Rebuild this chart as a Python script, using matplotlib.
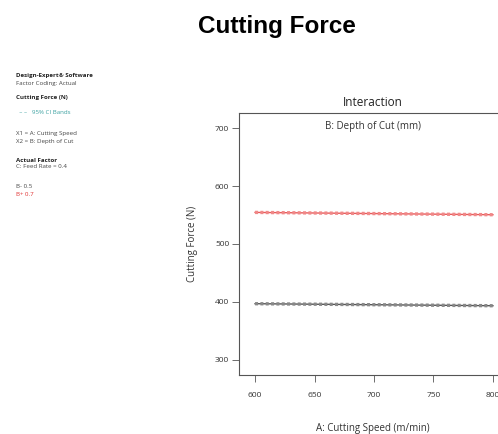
import matplotlib
matplotlib.use("Agg")
import matplotlib.pyplot as plt

speed = [600, 800]
force_b_low = [397.0, 393.5]    # B- 0.5
force_b_high = [554.5, 550.5]   # B+ 0.7
xticks = [600, 650, 700, 750, 800]
yticks = [300, 400, 500, 600, 700]

W, H = 498, 434
fig = plt.figure(figsize=(W / 100, H / 100), dpi=100)
fig.patch.set_facecolor("white")

sans = ["Open Sans", "DejaVu Sans"]

fig.text(277 / W, 1 - 26 / H, "Cutting Force", ha="center", va="center",
         fontsize=17.5, fontweight="bold", family=["Liberation Sans", "DejaVu Sans"])

left_x = 16 / W
items = [
    (76, "Design-Expert® Software", "bold", "#222222"),
    (83, "Factor Coding: Actual", "normal", "#444444"),
    (98, "Cutting Force (N)", "bold", "#222222"),
    (113, "  – –   95% CI Bands", "normal", "#3aa0a0"),
    (134, "X1 = A: Cutting Speed", "normal", "#444444"),
    (141, "X2 = B: Depth of Cut", "normal", "#444444"),
    (160, "Actual Factor", "bold", "#222222"),
    (167, "C: Feed Rate = 0.4", "normal", "#444444"),
    (187, "B- 0.5", "normal", "#444444"),
    (195, "B+ 0.7", "normal", "#e03030"),
]
for y, s, w, c in items:
    fig.text(left_x, 1 - y / H, s, ha="left", va="center", fontsize=4.4,
             fontweight=w, color=c, family=sans)

ax = fig.add_axes([239 / W, 1 - 375 / H, (509 - 239) / W, (375 - 113) / H])
ax.set_xlim(586.5, 813.5)
ax.set_ylim(274, 726)

ax.plot(speed, force_b_low, color="#555555", lw=1.0)
ax.plot(speed, force_b_low, color="#888888", lw=2.4, ls=(0, (0.9, 0.7)))
ax.plot(speed, force_b_high, color="#e85a5a", lw=1.0)
ax.plot(speed, force_b_high, color="#f08888", lw=2.4, ls=(0, (0.9, 0.7)))

ax.set_xticks(xticks)
ax.set_yticks(yticks)
ax.tick_params(axis="both", labelsize=6, length=5, width=0.6, color="#555555",
               labelcolor="#333333", pad=2)
ax.tick_params(axis="x", pad=7)
for lab in ax.get_xticklabels() + ax.get_yticklabels():
    lab.set_family(sans)
for sp in ax.spines.values():
    sp.set_color("#555555")
    sp.set_linewidth(0.8)

fig.text(373 / W, 1 - 103 / H, "Interaction", ha="center", va="center",
         fontsize=8.5, color="#222222", family=sans)
fig.text(373 / W, 1 - 127 / H, "B: Depth of Cut (mm)", ha="center", va="center",
         fontsize=7, color="#333333", family=sans)
fig.text(192 / W, 1 - 244 / H, "Cutting Force (N)", ha="center", va="center",
         rotation=90, fontsize=7, color="#333333", family=sans)
fig.text(373 / W, 1 - 428 / H, "A: Cutting Speed (m/min)", ha="center", va="center",
         fontsize=7, color="#333333", family=sans)

fig.savefig("out.png", dpi=100)
